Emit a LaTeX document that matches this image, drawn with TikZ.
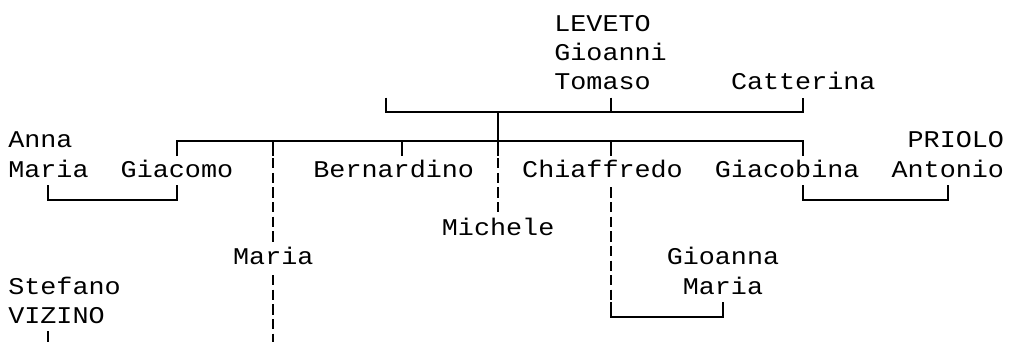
\documentclass[tikz,border=0pt]{standalone}
\usepackage{fontspec}
\newfontfamily\treefont[FakeStretch=1.115]{Liberation Mono}
\newcommand{\ms}{\rule[-8.1pt]{0pt}{29.2pt}}
\newcommand{\stackL}[1]{\vbox{\offinterlineskip\halign{\ms##\hfil\cr#1\crcr}}}
\newcommand{\stackR}[1]{\vbox{\offinterlineskip\halign{\hfil\ms##\cr#1\crcr}}}
\newcommand{\stackC}[1]{\vbox{\offinterlineskip\halign{\hfil\ms##\hfil\cr#1\crcr}}}
\begin{document}
\begin{tikzpicture}[x=1pt,y=1pt,
  person/.style={inner sep=0pt, outer sep=0pt, anchor=base west,
    font=\treefont\fontsize{24pt}{29.2pt}\selectfont},
  ln/.style={line width=2pt, black},
  dln/.style={line width=2pt, black, dash pattern=on 10.2pt off 4.4pt, dash phase=12.4pt}]
\fill[white] (0,0) rectangle (1010,-342);
\useasboundingbox (0,0) rectangle (1010,-342);
\def\cw{16.06pt}
\def\hc{8.03pt}
% rows of bars
\coordinate (bar3) at (0,-112.3);
\coordinate (bar4) at (0,-141.5);
\coordinate (bar6) at (0,-199.9);
\coordinate (bar10) at (0,-316.7);
\coordinate (bottom) at (0,-342);
% people
\node[person] (leveto) at (554.34,-89.6) {\stackL{LEVETO\cr Gioanni\cr Tomaso}};
\node[person] (catterina) at (731.0,-89.6) {\ms Catterina};
\node[person] (anna) at (8.3,-177.2) {\stackL{Anna\cr Maria}};
\node[person] (giacomo) at (120.72,-177.2) {\ms Giacomo};
\node[person] (bernardino) at (313.44,-177.2) {\ms Bernardino};
\node[person] (chiaffredo) at (522.22,-177.2) {\ms Chiaffredo};
\node[person] (giacobina) at (714.94,-177.2) {\ms Giacobina};
\node[person] (priolo) at (891.6,-177.2) {\stackR{PRIOLO\cr Antonio}};
\node[person] (michele) at (441.92,-235.6) {\ms Michele};
\node[person] (maria) at (233.14,-264.8) {\ms Maria};
\node[person] (gioanna) at (666.76,-294.0) {\stackC{Gioanna\cr Maria}};
\node[person] (stefano) at (8.3,-323.2) {\stackL{Stefano\cr VIZINO}};
% top couple bar
\coordinate (topL) at (385.71,-97.7);
\draw[ln] (topL) -- (topL |- bar3) -| (catterina.south);
\draw[ln] (leveto.south) -- (leveto.south |- bar3);
% line to Michele
\draw[ln] (michele.north |- bar3) -- (michele.north |- bernardino.north);
\draw[dln] (michele.north |- bernardino.north) -- (michele.north);
% children bar
\coordinate (gtick) at ([xshift=\cw]giacobina.north);
\coordinate (btick) at ([xshift=\hc]bernardino.north);
\coordinate (ctick) at ([xshift=\hc]chiaffredo.north);
\draw[ln] (giacomo.north) |- (gtick |- bar4) -- (gtick);
\draw[ln] (btick |- bar4) -- (btick);
\draw[ln] (ctick |- bar4) -- (ctick);
% Maria
\draw[ln] (maria.north |- bar4) -- (maria.north |- giacomo.north);
\draw[dln] (maria.north |- giacomo.north) -- (maria.north);
\draw[dln] (maria.south) -- (maria.south |- bottom);
% Chiaffredo - Gioanna Maria
\coordinate (cbot) at ([xshift=\hc]chiaffredo.south);
\draw[dln] (cbot) -- (cbot |- gioanna.south);
\draw[ln] (cbot |- gioanna.south) |- (bar10 -| gioanna.south) -- (gioanna.south);
% marriage brackets
\draw[ln] (anna.south) |- (bar6 -| giacomo.south) -- (giacomo.south);
\coordinate (gbot) at ([xshift=\cw]giacobina.south);
\draw[ln] (gbot) |- (bar6 -| priolo.south) -- (priolo.south);
% Stefano VIZINO
\coordinate (sbot) at ([xshift=-\cw]stefano.south);
\draw[ln] (sbot) -- (sbot |- bottom);
\end{tikzpicture}
\end{document}
